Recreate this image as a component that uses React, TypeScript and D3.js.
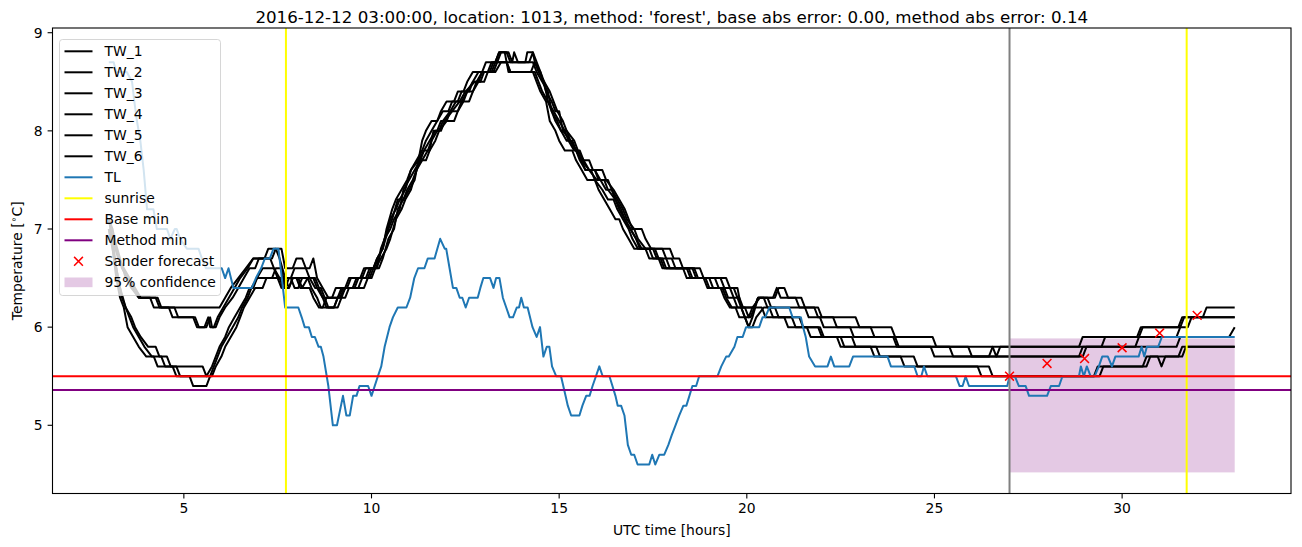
import React from "react";
import * as d3 from "d3";

// ---------------- data ----------------
const xTicks = [5, 10, 15, 20, 25, 30];
const yTicks = [5, 6, 7, 8, 9];

const sunriseHours = [7.72, 31.72];
const forecastStart = 27;
const baseMin = 5.5;
const methodMin = 5.36;
const confLow = 4.52;
const confHigh = 5.885;
const confEnd = 33;
const forecastHours = [27, 28, 29, 30, 31, 32];
const forecastValues = [5.5, 5.63, 5.68, 5.79, 5.94, 6.12];

const titleText =
  "2016-12-12 03:00:00, location: 1013, method: 'forest', base abs error: 0.00, method abs error: 0.14";

const tl: number[][] = [
  [3.0, 8.7], [3.13, 8.7], [3.2, 8.6], [3.48, 8.6], [3.62, 8.5], [3.68, 8.3], [3.75, 8.1], [3.84, 7.9],
  [3.93, 7.6], [4.02, 7.2], [4.19, 7.2], [4.28, 7.0], [4.55, 7.0], [4.64, 6.9], [4.76, 7.0], [4.81, 7.0],
  [4.9, 6.9], [5.08, 6.8], [5.39, 6.8], [5.48, 6.7], [5.59, 6.6], [6.01, 6.6], [6.1, 6.5], [6.19, 6.6],
  [6.32, 6.4], [6.81, 6.4], [6.92, 6.5], [7.06, 6.6], [7.16, 6.7], [7.29, 6.7], [7.39, 6.8], [7.52, 6.8],
  [7.7, 6.2], [8.05, 6.2], [8.14, 6.1], [8.22, 6.0], [8.33, 6.0], [8.41, 5.9], [8.49, 5.9], [8.59, 5.8],
  [8.65, 5.8], [8.72, 5.7], [8.85, 5.4], [8.97, 5.0], [9.08, 5.0], [9.24, 5.3], [9.33, 5.1], [9.42, 5.1],
  [9.51, 5.3], [9.6, 5.3], [9.68, 5.4], [9.91, 5.4], [10.0, 5.3], [10.17, 5.5], [10.26, 5.6], [10.35, 5.8],
  [10.48, 6.0], [10.57, 6.1], [10.7, 6.2], [10.93, 6.2], [11.03, 6.3], [11.14, 6.5], [11.24, 6.6],
  [11.41, 6.6], [11.5, 6.7], [11.68, 6.7], [11.83, 6.9], [11.95, 6.8], [11.99, 6.8], [12.08, 6.6],
  [12.17, 6.4], [12.26, 6.4], [12.35, 6.3], [12.42, 6.3], [12.51, 6.2], [12.6, 6.3], [12.83, 6.3],
  [12.9, 6.4], [12.98, 6.5], [13.16, 6.5], [13.25, 6.4], [13.32, 6.5], [13.41, 6.5], [13.5, 6.3],
  [13.59, 6.2], [13.68, 6.1], [13.77, 6.1], [13.87, 6.2], [13.93, 6.2], [13.99, 6.3], [14.06, 6.2],
  [14.16, 6.2], [14.29, 6.0], [14.4, 5.9], [14.49, 6.0], [14.58, 5.7], [14.67, 5.8], [14.74, 5.8],
  [14.81, 5.6], [14.92, 5.5], [15.05, 5.5], [15.17, 5.3], [15.23, 5.2], [15.32, 5.1], [15.54, 5.1],
  [15.62, 5.2], [15.72, 5.3], [15.81, 5.3], [15.89, 5.4], [15.98, 5.5], [16.07, 5.6], [16.16, 5.5],
  [16.34, 5.5], [16.42, 5.4], [16.5, 5.3], [16.56, 5.2], [16.65, 5.2], [16.74, 5.1], [16.83, 4.8],
  [16.92, 4.7], [17.0, 4.7], [17.09, 4.6], [17.4, 4.6], [17.48, 4.7], [17.56, 4.6], [17.67, 4.7],
  [17.8, 4.7], [17.91, 4.8], [18.0, 4.9], [18.1, 5.0], [18.2, 5.1], [18.31, 5.2], [18.39, 5.2],
  [18.47, 5.3], [18.55, 5.4], [18.65, 5.4], [18.73, 5.5], [19.22, 5.5], [19.32, 5.6], [19.45, 5.7],
  [19.52, 5.7], [19.67, 5.8], [19.75, 5.9], [19.89, 5.9], [19.98, 6.0], [20.33, 6.0], [20.42, 6.1],
  [20.49, 6.1], [20.6, 6.2], [21.13, 6.2], [21.22, 6.1], [21.44, 6.1], [21.5, 6.0], [21.57, 5.9],
  [21.66, 5.7], [21.82, 5.6], [22.15, 5.6], [22.24, 5.7], [22.33, 5.6], [22.73, 5.6], [22.83, 5.7],
  [23.75, 5.7], [23.84, 5.6], [24.46, 5.6], [24.55, 5.5], [24.65, 5.5], [24.72, 5.6], [24.81, 5.5],
  [25.57, 5.5], [25.67, 5.4], [25.75, 5.4], [25.83, 5.5], [25.92, 5.4], [26.94, 5.4], [27.0, 5.5],
  [27.14, 5.5], [27.25, 5.4], [27.43, 5.4], [27.52, 5.3], [28.0, 5.3], [28.1, 5.4], [28.32, 5.4],
  [28.41, 5.5], [28.85, 5.5], [28.9, 5.6], [28.98, 5.5], [29.06, 5.6], [29.16, 5.5], [29.27, 5.5],
  [29.38, 5.6], [29.47, 5.7], [29.62, 5.7], [29.73, 5.6], [29.82, 5.7], [30.44, 5.7], [30.52, 5.8],
  [30.59, 5.7], [30.66, 5.8], [30.96, 5.8], [31.06, 5.9], [33.0, 5.9],
];

const tw1: number[][] = [
  [3.0, 7.1], [3.1, 7.0], [3.2, 6.8], [3.35, 6.6], [3.5, 6.5], [3.65, 6.4], [3.8, 6.3], [4.25, 6.3],
  [4.35, 6.2], [5.95, 6.2], [6.1, 6.3], [6.25, 6.4], [6.45, 6.5], [6.65, 6.6], [6.85, 6.7], [7.35, 6.7],
  [7.45, 6.8], [7.6, 6.8], [7.7, 6.6], [7.9, 6.6], [8.0, 6.7], [8.15, 6.7], [8.25, 6.6], [8.35, 6.6],
  [8.45, 6.7], [8.55, 6.5], [8.7, 6.4], [8.85, 6.3], [9.15, 6.3], [9.3, 6.4], [9.4, 6.5], [9.7, 6.5],
  [9.8, 6.6], [10.05, 6.6], [10.15, 6.7], [10.3, 6.8], [10.45, 7.0], [10.55, 7.1], [10.7, 7.3],
  [10.85, 7.3], [10.95, 7.4], [11.1, 7.5], [11.2, 7.6], [11.35, 7.7], [11.5, 7.8], [11.6, 7.9],
  [11.75, 8.0], [11.85, 8.1], [12.0, 8.1], [12.1, 8.2], [12.25, 8.3], [12.45, 8.3], [12.55, 8.4],
  [12.7, 8.5], [12.9, 8.5], [13.0, 8.6], [13.2, 8.6], [13.3, 8.7], [13.4, 8.8], [13.65, 8.8],
  [13.75, 8.7], [13.8, 8.8], [13.9, 8.7], [14.1, 8.7], [14.15, 8.8], [14.3, 8.8], [14.4, 8.7],
  [14.5, 8.6], [14.6, 8.5], [14.75, 8.4], [14.85, 8.3], [14.95, 8.2], [15.1, 8.1], [15.2, 8.0],
  [15.4, 7.9], [15.5, 7.8], [15.65, 7.7], [15.8, 7.7], [15.9, 7.6], [16.15, 7.6], [16.25, 7.5],
  [16.45, 7.4], [16.6, 7.3], [16.75, 7.2], [16.85, 7.1], [16.95, 7.0], [17.2, 7.0], [17.3, 6.9],
  [17.45, 6.8], [17.95, 6.8], [18.05, 6.7], [18.2, 6.7], [18.3, 6.6], [18.75, 6.6], [18.85, 6.5],
  [19.45, 6.5], [19.55, 6.4], [19.75, 6.4], [19.85, 6.2], [19.95, 6.1], [20.05, 6.0], [20.15, 6.1],
  [20.3, 6.3], [20.75, 6.3], [20.85, 6.4], [21.0, 6.4], [21.1, 6.3], [21.45, 6.3], [21.55, 6.2],
  [21.9, 6.2], [22.0, 6.1], [22.9, 6.1], [23.0, 6.0], [23.85, 6.0], [23.95, 5.9], [24.95, 5.9],
  [25.05, 5.8], [26.55, 5.8], [26.65, 5.7], [26.75, 5.8], [29.45, 5.8], [29.55, 5.9], [30.4, 5.9],
  [30.5, 6.0], [31.5, 6.0], [31.6, 6.1], [32.15, 6.1], [32.25, 6.2], [33.0, 6.2],
];

const tw2: number[][] = [
  [3.0, 7.0], [3.15, 6.9], [3.3, 6.7], [3.45, 6.5], [3.6, 6.4], [3.8, 6.3], [4.1, 6.3], [4.2, 6.2],
  [4.75, 6.2], [4.85, 6.1], [5.3, 6.1], [5.4, 6.0], [5.55, 6.0], [5.65, 6.1], [5.7, 6.0], [5.8, 6.0],
  [5.9, 6.1], [6.05, 6.2], [6.2, 6.3], [6.35, 6.4], [6.5, 6.5], [6.7, 6.6], [6.85, 6.7], [7.15, 6.7],
  [7.25, 6.8], [7.45, 6.8], [7.55, 6.7], [7.7, 6.5], [7.85, 6.5], [7.95, 6.6], [8.25, 6.6], [8.35, 6.5],
  [8.5, 6.4], [8.65, 6.4], [8.75, 6.3], [8.85, 6.2], [9.1, 6.2], [9.2, 6.3], [9.3, 6.4], [9.8, 6.4],
  [9.9, 6.5], [10.0, 6.6], [10.15, 6.6], [10.25, 6.8], [10.35, 6.9], [10.5, 7.1], [10.65, 7.2],
  [10.75, 7.3], [10.9, 7.4], [11.05, 7.6], [11.2, 7.7], [11.35, 7.8], [11.45, 7.9], [11.6, 8.0],
  [11.75, 8.1], [11.9, 8.2], [12.05, 8.2], [12.15, 8.3], [12.3, 8.3], [12.4, 8.4], [12.6, 8.4],
  [12.7, 8.5], [12.85, 8.6], [13.1, 8.6], [13.2, 8.7], [13.35, 8.7], [13.45, 8.8], [13.6, 8.8],
  [13.7, 8.7], [14.2, 8.7], [14.3, 8.8], [14.35, 8.7], [14.5, 8.6], [14.65, 8.4], [14.8, 8.3],
  [14.9, 8.2], [15.0, 8.2], [15.1, 8.0], [15.3, 7.9], [15.45, 7.8], [15.6, 7.7], [15.8, 7.6],
  [15.95, 7.6], [16.05, 7.5], [16.3, 7.5], [16.4, 7.4], [16.55, 7.3], [16.7, 7.2], [16.8, 7.1],
  [17.0, 7.0], [17.1, 6.9], [17.3, 6.8], [17.75, 6.8], [17.85, 6.7], [18.0, 6.7], [18.1, 6.6],
  [18.6, 6.6], [18.7, 6.5], [19.3, 6.5], [19.4, 6.4], [19.65, 6.4], [19.75, 6.3], [19.85, 6.2],
  [20.2, 6.2], [20.3, 6.3], [20.7, 6.3], [20.8, 6.4], [20.9, 6.3], [21.3, 6.3], [21.4, 6.2],
  [21.8, 6.2], [21.9, 6.1], [22.3, 6.1], [22.4, 6.0], [23.3, 6.0], [23.4, 5.9], [23.95, 5.9],
  [24.05, 5.8], [25.9, 5.8], [26.0, 5.7], [26.45, 5.7], [26.55, 5.8], [28.85, 5.8], [28.95, 5.9],
  [30.45, 5.9], [30.55, 6.0], [31.55, 6.0], [31.65, 6.1], [33.0, 6.1],
];

const tw3: number[][] = [
  [3.0, 7.1], [3.1, 6.9], [3.25, 6.7], [3.4, 6.6], [3.55, 6.5], [3.7, 6.4], [3.85, 6.3], [4.3, 6.3],
  [4.4, 6.2], [4.6, 6.2], [4.7, 6.1], [5.25, 6.1], [5.35, 6.0], [5.6, 6.0], [5.7, 6.1], [5.75, 6.0],
  [5.85, 6.0], [5.95, 6.1], [6.1, 6.2], [6.3, 6.3], [6.45, 6.4], [6.6, 6.5], [6.75, 6.6], [6.9, 6.6],
  [7.0, 6.7], [7.3, 6.7], [7.4, 6.6], [7.55, 6.5], [7.7, 6.5], [7.8, 6.4], [7.9, 6.5], [8.05, 6.5],
  [8.15, 6.4], [8.3, 6.5], [8.45, 6.5], [8.55, 6.4], [8.7, 6.3], [8.8, 6.2], [9.0, 6.2], [9.1, 6.3],
  [9.25, 6.4], [9.35, 6.4], [9.45, 6.5], [9.85, 6.5], [9.95, 6.6], [10.2, 6.6], [10.3, 6.7],
  [10.45, 6.9], [10.6, 7.0], [10.7, 7.2], [10.85, 7.3], [11.0, 7.4], [11.15, 7.5], [11.25, 7.7],
  [11.4, 7.8], [11.55, 7.8], [11.65, 8.0], [11.8, 8.0], [11.9, 8.1], [12.1, 8.2], [12.3, 8.2],
  [12.4, 8.3], [12.55, 8.4], [12.7, 8.4], [12.8, 8.5], [12.95, 8.6], [13.15, 8.6], [13.25, 8.7],
  [13.6, 8.7], [13.7, 8.6], [14.35, 8.6], [14.45, 8.5], [14.55, 8.4], [14.7, 8.3], [14.8, 8.2],
  [14.95, 8.1], [15.05, 8.0], [15.2, 7.9], [15.35, 7.9], [15.45, 7.8], [15.6, 7.7], [15.7, 7.6],
  [15.95, 7.6], [16.1, 7.5], [16.25, 7.4], [16.4, 7.4], [16.5, 7.3], [16.65, 7.2], [16.75, 7.1],
  [16.9, 7.0], [17.05, 6.9], [17.2, 6.8], [17.55, 6.8], [17.65, 6.7], [17.85, 6.7], [17.95, 6.6],
  [18.55, 6.6], [18.65, 6.5], [19.15, 6.5], [19.25, 6.4], [19.55, 6.4], [19.65, 6.3], [19.75, 6.2],
  [19.95, 6.2], [20.05, 6.1], [20.15, 6.2], [20.35, 6.3], [20.55, 6.3], [20.65, 6.2], [21.55, 6.2],
  [21.65, 6.1], [21.95, 6.1], [22.05, 6.0], [22.75, 6.0], [22.85, 5.9], [23.9, 5.9], [24.0, 5.8],
  [25.4, 5.8], [25.5, 5.7], [28.85, 5.7], [28.95, 5.8], [30.35, 5.8], [30.45, 5.9], [31.45, 5.9],
  [31.55, 6.0], [31.75, 6.0], [31.85, 6.1], [33.0, 6.1],
];

const tw4: number[][] = [
  [3.0, 7.0], [3.1, 6.8], [3.2, 6.5], [3.3, 6.3], [3.4, 6.2], [3.5, 6.0], [3.65, 5.9], [3.8, 5.8],
  [4.0, 5.7], [4.2, 5.7], [4.3, 5.6], [4.7, 5.6], [4.8, 5.5], [5.15, 5.5], [5.25, 5.4], [5.6, 5.4],
  [5.7, 5.5], [5.8, 5.6], [5.9, 5.7], [6.0, 5.8], [6.15, 5.9], [6.3, 6.0], [6.45, 6.1], [6.55, 6.2],
  [6.7, 6.3], [6.8, 6.4], [6.95, 6.5], [7.1, 6.6], [7.4, 6.6], [7.5, 6.5], [7.6, 6.4], [7.7, 6.5],
  [7.85, 6.5], [7.95, 6.4], [8.05, 6.4], [8.15, 6.5], [8.5, 6.5], [8.6, 6.4], [8.7, 6.3], [8.95, 6.3],
  [9.05, 6.4], [9.5, 6.4], [9.6, 6.5], [9.75, 6.5], [9.85, 6.6], [10.05, 6.6], [10.15, 6.7],
  [10.3, 6.8], [10.4, 7.0], [10.55, 7.2], [10.65, 7.3], [10.8, 7.4], [10.95, 7.5], [11.05, 7.6],
  [11.25, 7.7], [11.35, 7.9], [11.45, 8.0], [11.6, 8.1], [11.75, 8.1], [11.85, 8.2], [12.0, 8.3],
  [12.2, 8.3], [12.3, 8.4], [12.45, 8.4], [12.55, 8.5], [12.7, 8.6], [12.95, 8.6], [13.05, 8.7],
  [13.3, 8.7], [13.4, 8.8], [13.55, 8.8], [13.65, 8.6], [14.3, 8.6], [14.4, 8.5], [14.5, 8.4],
  [14.65, 8.3], [14.75, 8.1], [14.9, 8.0], [15.0, 7.9], [15.15, 7.8], [15.35, 7.8], [15.45, 7.7],
  [15.6, 7.6], [15.75, 7.5], [15.95, 7.5], [16.05, 7.4], [16.2, 7.3], [16.35, 7.2], [16.5, 7.1],
  [16.6, 7.1], [16.7, 7.0], [16.85, 6.9], [17.0, 6.8], [17.3, 6.8], [17.4, 6.7], [17.7, 6.7],
  [17.8, 6.6], [18.4, 6.6], [18.5, 6.5], [18.9, 6.5], [19.0, 6.4], [19.35, 6.4], [19.45, 6.3],
  [19.6, 6.2], [19.85, 6.2], [19.95, 6.1], [20.1, 6.1], [20.2, 6.2], [20.4, 6.2], [20.5, 6.1],
  [21.2, 6.1], [21.3, 6.0], [21.95, 6.0], [22.05, 5.9], [22.8, 5.9], [22.9, 5.8], [24.9, 5.8],
  [25.0, 5.7], [28.95, 5.7], [29.05, 5.8], [31.45, 5.8], [31.55, 5.9], [32.85, 5.9], [33.0, 6.0],
];

const tw5: number[][] = [
  [3.0, 7.1], [3.1, 6.9], [3.2, 6.6], [3.3, 6.4], [3.45, 6.2], [3.55, 6.1], [3.65, 6.0], [3.8, 5.9],
  [3.95, 5.8], [4.15, 5.7], [4.4, 5.7], [4.5, 5.6], [5.5, 5.6], [5.6, 5.5], [5.75, 5.6], [5.85, 5.7],
  [5.95, 5.8], [6.1, 5.9], [6.2, 6.0], [6.35, 6.1], [6.5, 6.2], [6.65, 6.3], [6.75, 6.4], [6.85, 6.4],
  [6.95, 6.5], [7.35, 6.5], [7.45, 6.6], [7.6, 6.6], [7.7, 6.4], [7.8, 6.5], [8.0, 6.5], [8.1, 6.4],
  [8.35, 6.4], [8.45, 6.3], [8.6, 6.2], [8.7, 6.2], [8.8, 6.3], [9.3, 6.3], [9.4, 6.4], [9.65, 6.4],
  [9.75, 6.5], [9.95, 6.5], [10.05, 6.6], [10.2, 6.7], [10.35, 6.9], [10.5, 7.0], [10.6, 7.1],
  [10.75, 7.2], [10.85, 7.4], [11.0, 7.5], [11.15, 7.6], [11.3, 7.7], [11.4, 7.8], [11.55, 7.9],
  [11.7, 8.0], [11.85, 8.0], [11.95, 8.1], [12.15, 8.2], [12.35, 8.3], [12.5, 8.4], [12.75, 8.5],
  [12.85, 8.5], [12.95, 8.6], [13.25, 8.6], [13.35, 8.7], [14.3, 8.7], [14.4, 8.6], [14.55, 8.5],
  [14.7, 8.4], [14.8, 8.2], [14.9, 8.1], [15.05, 8.0], [15.2, 8.0], [15.3, 7.9], [15.45, 7.8],
  [15.55, 7.7], [15.7, 7.6], [15.85, 7.6], [15.95, 7.5], [16.15, 7.4], [16.3, 7.3], [16.45, 7.3],
  [16.55, 7.2], [16.7, 7.1], [16.85, 7.0], [16.95, 6.9], [17.1, 6.8], [17.5, 6.8], [17.6, 6.7],
  [17.75, 6.7], [17.85, 6.6], [18.45, 6.6], [18.55, 6.5], [19.0, 6.5], [19.1, 6.4], [19.4, 6.4],
  [19.5, 6.3], [19.8, 6.3], [19.9, 6.2], [20.2, 6.2], [20.3, 6.3], [20.45, 6.3], [20.55, 6.2],
  [20.75, 6.2], [20.85, 6.1], [21.4, 6.1], [21.5, 6.0], [21.9, 6.0], [22.0, 5.9], [22.5, 5.9],
  [22.6, 5.8], [23.45, 5.8], [23.55, 5.7], [24.45, 5.7], [24.55, 5.6], [26.15, 5.6], [26.25, 5.5],
  [29.25, 5.5], [29.35, 5.6], [30.55, 5.6], [30.65, 5.7], [30.95, 5.7], [31.05, 5.6], [31.15, 5.7],
  [31.5, 5.7], [31.6, 5.8], [33.0, 5.8],
];

const tw6: number[][] = [
  [3.0, 7.0], [3.1, 6.8], [3.2, 6.6], [3.35, 6.3], [3.45, 6.2], [3.6, 6.1], [3.7, 6.0], [3.85, 5.9],
  [4.05, 5.8], [4.25, 5.8], [4.35, 5.7], [4.55, 5.7], [4.65, 5.6], [4.8, 5.6], [4.9, 5.5], [5.75, 5.5],
  [5.85, 5.6], [6.0, 5.7], [6.1, 5.8], [6.25, 5.9], [6.4, 6.0], [6.5, 6.1], [6.6, 6.2], [6.75, 6.3],
  [6.9, 6.4], [7.1, 6.4], [7.2, 6.5], [7.55, 6.5], [7.65, 6.4], [7.8, 6.4], [7.9, 6.5], [8.3, 6.5],
  [8.4, 6.4], [8.55, 6.3], [8.65, 6.2], [9.0, 6.2], [9.1, 6.3], [9.2, 6.4], [9.55, 6.4], [9.65, 6.5],
  [10.0, 6.5], [10.1, 6.6], [10.25, 6.7], [10.4, 6.8], [10.5, 6.9], [10.65, 7.1], [10.8, 7.2],
  [10.9, 7.3], [11.05, 7.4], [11.2, 7.6], [11.3, 7.7], [11.45, 7.7], [11.55, 7.8], [11.7, 7.9],
  [11.8, 8.0], [12.0, 8.1], [12.2, 8.1], [12.3, 8.2], [12.45, 8.3], [12.6, 8.3], [12.7, 8.4],
  [12.85, 8.5], [13.0, 8.5], [13.1, 8.6], [13.3, 8.6], [13.45, 8.7], [13.6, 8.7], [13.7, 8.6],
  [14.25, 8.6], [14.35, 8.7], [14.45, 8.6], [14.6, 8.5], [14.7, 8.3], [14.85, 8.2], [15.0, 8.1],
  [15.15, 8.0], [15.25, 7.9], [15.4, 7.8], [15.55, 7.8], [15.65, 7.7], [15.8, 7.6], [16.0, 7.5],
  [16.2, 7.5], [16.3, 7.4], [16.5, 7.3], [16.6, 7.2], [16.75, 7.1], [16.9, 7.0], [17.05, 6.9],
  [17.15, 6.8], [17.4, 6.8], [17.5, 6.7], [17.65, 6.7], [17.75, 6.6], [18.3, 6.6], [18.4, 6.5],
  [18.85, 6.5], [18.95, 6.4], [19.3, 6.4], [19.4, 6.3], [19.55, 6.2], [19.7, 6.2], [19.8, 6.1],
  [19.95, 6.1], [20.05, 6.0], [20.15, 6.0], [20.25, 6.1], [20.45, 6.2], [20.6, 6.2], [20.7, 6.1],
  [21.0, 6.1], [21.1, 6.0], [21.6, 6.0], [21.7, 5.9], [22.4, 5.9], [22.5, 5.8], [23.3, 5.8],
  [23.4, 5.7], [24.1, 5.7], [24.2, 5.6], [26.45, 5.6], [26.55, 5.5], [29.4, 5.5], [29.5, 5.6],
  [30.65, 5.6], [30.75, 5.7], [31.6, 5.7], [31.7, 5.8], [33.0, 5.8],
];

const twSeries = [tw1, tw2, tw3, tw4, tw5, tw6];

const legendLabels = [
  "TW_1", "TW_2", "TW_3", "TW_4", "TW_5", "TW_6", "TL", "sunrise", "Base min", "Method min",
  "Sander forecast", "95% confidence",
];

// ---------------- layout ----------------
const W = 1302;
const H = 547;
const ML = 52.5;
const MR = 1291;
const MT = 28;
const MB = 493.5;
const FONT = "'DejaVu Sans', Verdana, sans-serif";

export default function App() {
  const x = d3.scaleLinear().domain([1.5, 34.5]).range([ML, MR]);
  const y = d3.scaleLinear().domain([4.305, 9.048]).range([MB, MT]);
  const line = d3
    .line<number[]>()
    .x((d) => x(d[0]))
    .y((d) => y(d[1]));

  const legendX = 59.5;
  const legendY = 39.5;
  const legendW = 161;
  const legendH = 256;
  const rowY = (i: number) => 51.3 + i * 21;
  const hx0 = 64.5;
  const hx1 = 92.5;

  const legendColor = (i: number) => {
    if (i < 6) return "#000000";
    if (i === 6) return "#1f77b4";
    if (i === 7) return "#ffff00";
    if (i === 8) return "#ff0000";
    if (i === 9) return "#800080";
    return "";
  };

  const xMark = (cx: number, cy: number, r: number) =>
    `M${cx - r},${cy - r}L${cx + r},${cy + r}M${cx - r},${cy + r}L${cx + r},${cy - r}`;

  return (
    <div style={{ position: "absolute", left: 0, top: 0, width: W, height: H, background: "#fff" }}>
      <svg width={W} height={H} style={{ display: "block" }} fontFamily={FONT}>
        <defs>
          <clipPath id="plotclip">
            <rect x={ML} y={MT} width={MR - ML} height={MB - MT} />
          </clipPath>
        </defs>
        <rect x={0} y={0} width={W} height={H} fill="#fff" />

        <g clipPath="url(#plotclip)">
          {/* confidence box */}
          <rect
            x={x(forecastStart)}
            y={y(confHigh)}
            width={x(confEnd) - x(forecastStart)}
            height={y(confLow) - y(confHigh)}
            fill="#800080"
            fillOpacity={0.21}
          />
          {twSeries.map((s, i) => (
            <path key={i} d={line(s) || ""} fill="none" stroke="#000" strokeWidth={2} strokeLinejoin="round" />
          ))}
          <path d={line(tl) || ""} fill="none" stroke="#1f77b4" strokeWidth={2} strokeLinejoin="round" />
          {sunriseHours.map((h, i) => (
            <line key={i} x1={x(h)} x2={x(h)} y1={MT} y2={MB} stroke="#ffff00" strokeWidth={2} />
          ))}
          <line x1={ML} x2={MR} y1={y(baseMin)} y2={y(baseMin)} stroke="#ff0000" strokeWidth={2} />
          <line x1={ML} x2={MR} y1={y(methodMin)} y2={y(methodMin)} stroke="#800080" strokeWidth={2} />
          <line
            x1={x(forecastStart)}
            x2={x(forecastStart)}
            y1={MT}
            y2={MB}
            stroke="#808080"
            strokeWidth={2}
          />
          {forecastHours.map((h, i) => (
            <path key={i} d={xMark(x(h), y(forecastValues[i]), 4.4)} stroke="#ff0000" strokeWidth={1.5} fill="none" />
          ))}
        </g>

        {/* spines */}
        <rect x={ML} y={MT} width={MR - ML} height={MB - MT} fill="none" stroke="#000" strokeWidth={1.1} />

        {/* x ticks */}
        {xTicks.map((t) => (
          <g key={t}>
            <line x1={x(t)} x2={x(t)} y1={MB} y2={MB + 4.9} stroke="#000" strokeWidth={1.1} />
            <text x={x(t)} y={MB + 19.5} textAnchor="middle" fontSize={13.9} fill="#000">
              {t}
            </text>
          </g>
        ))}
        {/* y ticks */}
        {yTicks.map((t) => (
          <g key={t}>
            <line x1={ML - 4.9} x2={ML} y1={y(t)} y2={y(t)} stroke="#000" strokeWidth={1.1} />
            <text x={ML - 9.8} y={y(t)} dy="0.35em" textAnchor="end" fontSize={13.9} fill="#000">
              {t}
            </text>
          </g>
        ))}

        {/* axis labels */}
        <text x={(ML + MR) / 2} y={535} textAnchor="middle" fontSize={13.9} fill="#000">
          UTC time [hours]
        </text>
        <text
          transform={`translate(22,${(MT + MB) / 2}) rotate(-90)`}
          textAnchor="middle"
          fontSize={13.9}
          fill="#000"
        >
          Temperature [
          <tspan fontSize={9.5} dy={-5}>
            {"\u2218"}
          </tspan>
          <tspan dy={5}>C]</tspan>
        </text>

        {/* title */}
        <text x={(ML + MR) / 2} y={23} textAnchor="middle" fontSize={16.7} fill="#000">
          {titleText}
        </text>

        {/* legend */}
        <rect
          x={legendX}
          y={legendY}
          width={legendW}
          height={legendH}
          rx={3}
          fill="#fff"
          fillOpacity={0.8}
          stroke="#cccccc"
          strokeOpacity={0.8}
          strokeWidth={1}
        />
        {legendLabels.map((lab, i) => {
          const cy = rowY(i);
          let handle: React.ReactNode = null;
          if (i < 10) {
            handle = <line x1={hx0} x2={hx1} y1={cy} y2={cy} stroke={legendColor(i)} strokeWidth={2} />;
          } else if (i === 10) {
            handle = <path d={xMark((hx0 + hx1) / 2, cy, 4.4)} stroke="#ff0000" strokeWidth={1.5} fill="none" />;
          } else {
            handle = (
              <rect x={hx0} y={cy - 4.8} width={hx1 - hx0} height={9.7} fill="#800080" fillOpacity={0.21} />
            );
          }
          return (
            <g key={lab}>
              {handle}
              <text x={104.5} y={cy} dy="0.35em" fontSize={13.9} fill="#000">
                {lab}
              </text>
            </g>
          );
        })}
      </svg>
    </div>
  );
}
